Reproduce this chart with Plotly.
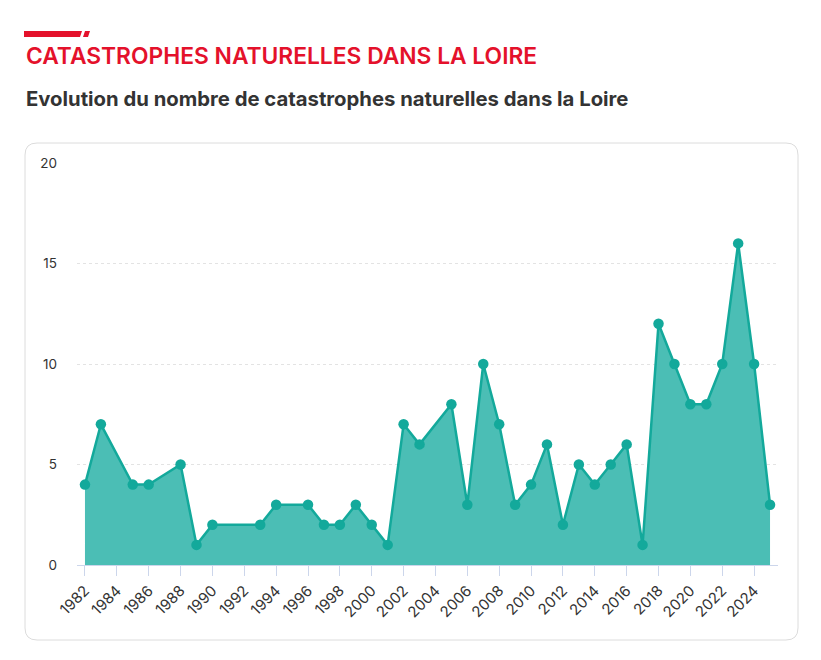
import plotly.graph_objects as go

# data
years = [1982, 1983, 1985, 1986, 1988, 1989, 1990, 1993, 1994, 1996, 1997,
         1998, 1999, 2000, 2001, 2002, 2003, 2005, 2006, 2007, 2008, 2009,
         2010, 2011, 2012, 2013, 2014, 2015, 2016, 2017, 2018, 2019, 2020,
         2021, 2022, 2023, 2024, 2025]
counts = [4, 7, 4, 4, 5, 1, 2, 2, 3, 3, 2,
          2, 3, 2, 1, 7, 6, 8, 3, 10, 7, 3,
          4, 6, 2, 5, 4, 5, 6, 1, 12, 10, 8,
          8, 10, 16, 10, 3]
y_ticks = [0, 5, 10, 15, 20]
x_ticks = list(range(1982, 2025, 2))

title = "CATASTROPHES NATURELLES DANS LA LOIRE"
subtitle = "Evolution du nombre de catastrophes naturelles dans la Loire"

# page body has an 8px margin, so work in page pixels minus 8
OFF = 8
W, H = 821 - OFF, 660 - OFF
L, R, T, B = 77 - OFF, 778 - OFF, 163 - OFF, 565 - OFF  # plot area


def px(x):
    return (x - OFF - L) / (R - L)


def py(y):
    return (B - (y - OFF)) / (B - T)


fig = go.Figure()
fig.add_trace(go.Scatter(
    x=years, y=counts, mode="lines+markers",
    fill="tozeroy", fillcolor="#4bbeb5",
    line=dict(color="#13a99b", width=2.5),
    marker=dict(color="#13a99b", size=10.5),
    hoverinfo="x+y",
))

# card with rounded corners
x0, x1, y0, y1, r = 25, 798, 143, 640, 12
card = (f"M {px(x0 + r)},{py(y0)} L {px(x1 - r)},{py(y0)} "
        f"Q {px(x1)},{py(y0)} {px(x1)},{py(y0 + r)} "
        f"L {px(x1)},{py(y1 - r)} Q {px(x1)},{py(y1)} {px(x1 - r)},{py(y1)} "
        f"L {px(x0 + r)},{py(y1)} Q {px(x0)},{py(y1)} {px(x0)},{py(y1 - r)} "
        f"L {px(x0)},{py(y0 + r)} Q {px(x0)},{py(y0)} {px(x0 + r)},{py(y0)} Z")
fig.add_shape(type="path", path=card, xref="paper", yref="paper",
              line=dict(color="#dcdcdc", width=1), layer="below")

# red accent bar above the title
bar = (f"M {px(24)},{py(31)} L {px(82)},{py(31)} L {px(80)},{py(37)} "
       f"L {px(24)},{py(37)} Z")
bar2 = (f"M {px(85)},{py(31)} L {px(90)},{py(31)} L {px(88)},{py(37)} "
        f"L {px(83)},{py(37)} Z")
for p in (bar, bar2):
    fig.add_shape(type="path", path=p, xref="paper", yref="paper",
                  fillcolor="#e4112b", line=dict(width=0))

fig.add_annotation(text=title, xref="paper", yref="paper",
                   x=px(24), y=py(56), xanchor="left", yanchor="middle",
                   showarrow=False,
                   font=dict(family="Inter", size=22.8, color="#e4112b",
                             weight=600))
fig.add_annotation(text=subtitle, xref="paper", yref="paper",
                   x=px(24), y=py(98), xanchor="left", yanchor="middle",
                   showarrow=False,
                   font=dict(family="Inter", size=20.3, color="#333333",
                             weight=700))

fig.update_xaxes(
    range=[1981.5, 2025.5], tickvals=x_ticks, tickangle=-45,
    showgrid=False, showline=True, linecolor="#ccd6eb", linewidth=1,
    ticks="outside", ticklen=10, tickcolor="#ccd6eb",
    tickfont=dict(family="Inter", size=15, color="#333333"),
    zeroline=False, fixedrange=True,
)
fig.update_yaxes(
    range=[0, 20], tickvals=y_ticks, showline=False, zeroline=False,
    showgrid=True, gridcolor="#e3e3e3", griddash="dot", gridwidth=1,
    ticklabelstandoff=19,
    tickfont=dict(family="Inter", size=13.5, color="#333333"),
    fixedrange=True,
)
fig.update_layout(
    width=W, height=H, showlegend=False,
    plot_bgcolor="white", paper_bgcolor="white",
    margin=dict(l=L, r=W - R, t=T, b=H - B, autoexpand=False),
)

fig.write_html("out.html")
